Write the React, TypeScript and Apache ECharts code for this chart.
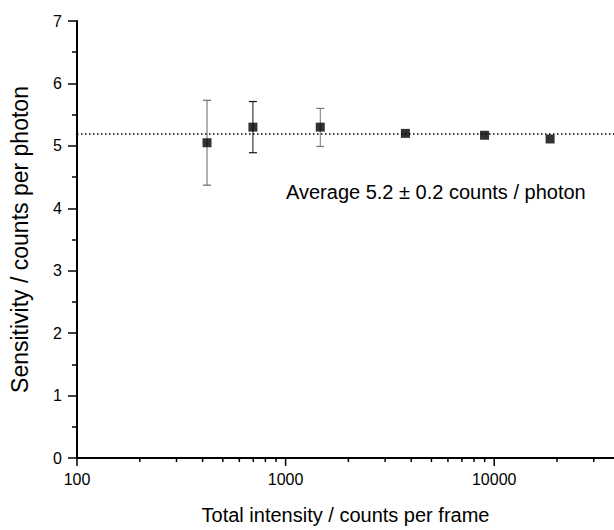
import React, { useEffect, useRef } from "react";
import * as echarts from "echarts";

const intensity = [420, 697, 1466, 3752, 8987, 18530];
const sensitivity = [5.05, 5.30, 5.30, 5.20, 5.17, 5.11];
const errLow = [4.37, 4.89, 4.99];
const errHigh = [5.73, 5.71, 5.60];
const errColors = ["#666", "#111", "#777"];
const average = 5.2;
const annotation = "Average 5.2 \u00b1 0.2 counts / photon";
const xMajorTicks = [100, 1000, 10000];
const xMinorTicks = [200, 300, 400, 500, 600, 700, 800, 900, 2000, 3000, 4000, 5000, 6000, 7000, 8000, 9000, 20000, 30000];
const xTitle = "Total intensity / counts per frame";
const yTitle = "Sensitivity / counts per photon";

const FONT = "'Liberation Sans', Arial, Helvetica, sans-serif";
const X_MIN = 100;
const X_MAX = Math.pow(10, 2 + 538 / 209);

export default function App() {
  const ref = useRef<HTMLDivElement>(null);
  useEffect(() => {
    document.body.style.margin = "0";
    if (!ref.current) return;
    const chart = echarts.init(ref.current, null, { renderer: "svg" });
    const tickData = [
      ...xMajorTicks.map((v) => [v, 0, 8]),
      ...xMinorTicks.map((v) => [v, 0, 4]),
    ];
    const errData = errLow.map((lo, i) => [intensity[i], lo, errHigh[i], i]);
    chart.setOption({
      animation: false,
      backgroundColor: "#fff",
      textStyle: { fontFamily: FONT },
      grid: { left: 76, right: 0, top: 21, bottom: 66, containLabel: false },
      xAxis: {
        type: "log",
        logBase: 10,
        min: X_MIN,
        max: X_MAX,
        name: xTitle,
        nameLocation: "middle",
        nameGap: 47,
        nameTextStyle: { fontSize: 20, color: "#000", fontFamily: FONT },
        axisLine: { show: true, onZero: false, lineStyle: { color: "#000", width: 2 } },
        axisTick: { show: false },
        splitLine: { show: false },
        axisLabel: {
          fontSize: 16,
          color: "#000",
          fontFamily: FONT,
          margin: 13,
          showMaxLabel: false,
          formatter: (v: number) => {
            const l = Math.log10(v);
            return Math.abs(l - Math.round(l)) < 1e-6 ? String(Math.round(v)) : "";
          },
        },
      },
      yAxis: {
        type: "value",
        min: 0,
        max: 7,
        interval: 1,
        name: yTitle,
        nameLocation: "middle",
        nameGap: 46,
        nameTextStyle: { fontSize: 23, color: "#000", fontFamily: FONT },
        axisLine: { show: true, onZero: false, lineStyle: { color: "#000", width: 2 } },
        axisTick: { show: true, length: 9, lineStyle: { color: "#000", width: 1.5 } },
        minorTick: { show: true, splitNumber: 2, length: 5, lineStyle: { color: "#000", width: 1.5 } },
        splitLine: { show: false },
        minorSplitLine: { show: false },
        axisLabel: { fontSize: 16, color: "#000", fontFamily: FONT, margin: 15 },
      },
      graphic: [
        {
          type: "text",
          x: 286,
          y: 192,
          style: {
            text: annotation,
            fontSize: 20,
            fontFamily: FONT,
            fill: "#000",
            textVerticalAlign: "middle",
            textAlign: "left",
          },
        },
      ],
      series: [
        {
          type: "custom",
          name: "xticks",
          clip: false,
          silent: true,
          z: 1,
          data: tickData,
          renderItem: (params: any, api: any) => {
            const p = api.coord([api.value(0), api.value(1)]);
            const len = api.value(2);
            return {
              type: "line",
              shape: { x1: p[0], y1: p[1], x2: p[0], y2: p[1] + len },
              style: { stroke: "#000", lineWidth: 1.5 },
            };
          },
        },
        {
          type: "custom",
          name: "errors",
          clip: false,
          silent: true,
          z: 2,
          data: errData,
          renderItem: (params: any, api: any) => {
            const top = api.coord([api.value(0), api.value(2)]);
            const bot = api.coord([api.value(0), api.value(1)]);
            const color = errColors[api.value(3)] || "#333";
            const cw = 4;
            return {
              type: "group",
              children: [
                { type: "line", shape: { x1: top[0], y1: top[1], x2: bot[0], y2: bot[1] }, style: { stroke: color, lineWidth: 1 } },
                { type: "line", shape: { x1: top[0] - cw, y1: top[1], x2: top[0] + cw, y2: top[1] }, style: { stroke: color, lineWidth: 1.2 } },
                { type: "line", shape: { x1: bot[0] - cw, y1: bot[1], x2: bot[0] + cw, y2: bot[1] }, style: { stroke: color, lineWidth: 1.2 } },
              ],
            };
          },
        },
        {
          type: "scatter",
          name: "sensitivity",
          symbol: "rect",
          symbolSize: 9,
          z: 5,
          itemStyle: { color: "#000" },
          data: intensity.map((x, i) => [x, sensitivity[i]]),
          markLine: {
            silent: true,
            symbol: ["none", "none"],
            label: { show: false },
            lineStyle: { color: "#000", width: 1.5, type: [1.5, 2.5] },
            data: [{ yAxis: average }],
            z: 3,
          },
        },
      ],
    });
    return () => chart.dispose();
  }, []);
  return <div ref={ref} style={{ width: 614, height: 530 }} />;
}
